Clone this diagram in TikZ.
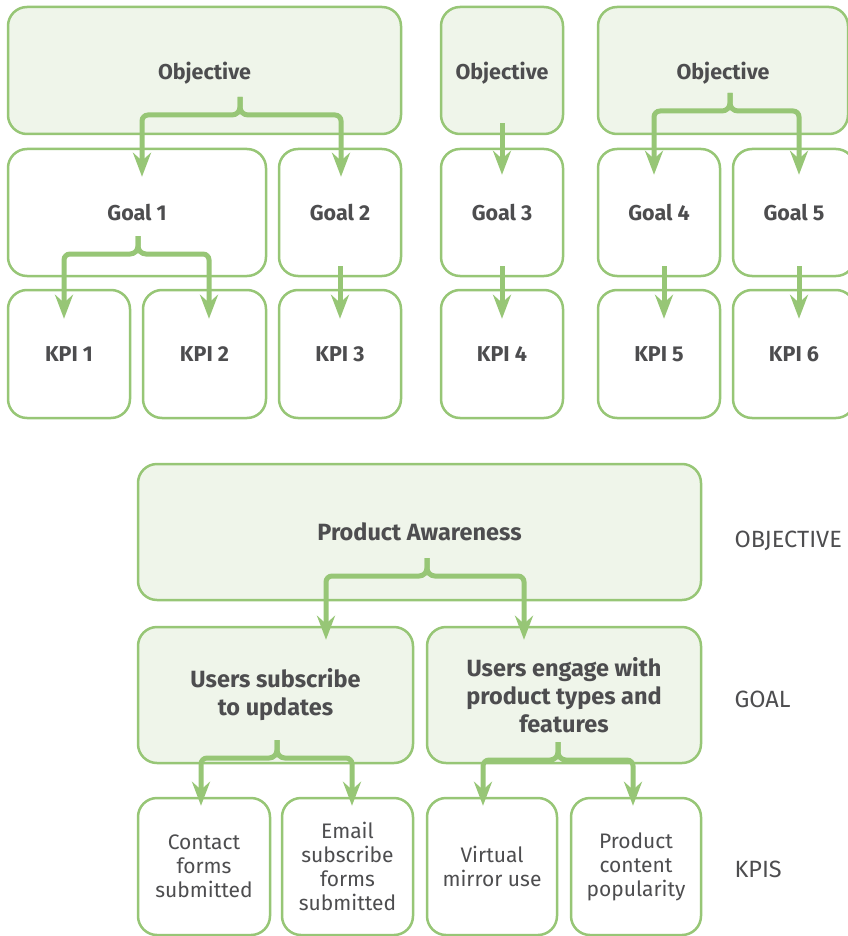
\documentclass[tikz,border=0pt]{standalone}
\usepackage{fontspec}
\setmainfont{Fira Sans}
\usepackage{tikz}
\usetikzlibrary{arrows.meta}
\definecolor{leafgreen}{RGB}{151,198,118}
\definecolor{leaffill}{RGB}{239,245,234}
\definecolor{inkgray}{RGB}{77,77,79}

% split arrow: brace point #1 to left end #2 and right end #3
\newcommand{\branch}[3]{%
  \draw[flow] (#1) -- ++(0,-10) to[out=-90,in=0] ++(-8,-8) [rounded corners=6pt] -| (#2);
  \draw[flow] (#1) -- ++(0,-10) to[out=-90,in=180] ++(8,-8) [rounded corners=6pt] -| (#3);
}

\begin{document}
\begin{tikzpicture}[x=1pt,y=1pt,
    box/.style={draw=leafgreen, line width=2.5pt, rounded corners=19pt, fill=white,
      text=inkgray, align=center, inner sep=0pt},
    objbox/.style={box, fill=leaffill},
    flow/.style={draw=leafgreen, line width=5pt,
      -{Stealth[length=24pt,width=18pt,inset=8pt]}},
    bold/.style={font=\bfseries\fontsize{21.5}{25}\selectfont, text depth=0pt},
    bigbold/.style={font=\bfseries\fontsize{23.5}{28}\selectfont},
    plain/.style={font=\fontsize{21}{24}\selectfont},
    side/.style={anchor=west, text=inkgray, font=\fontsize{23.5}{27}\selectfont}]
  \useasboundingbox (0,0) rectangle (847,-936);

  % generic tree, top half
  \node[objbox, bold, minimum width=393pt, minimum height=127pt] (objA) at (204.5,-70.5) {Objective};
  \node[objbox, bold, minimum width=122pt, minimum height=127pt] (objB) at (502,-70.5) {Objective};
  \node[objbox, bold, minimum width=250pt, minimum height=127pt] (objC) at (723,-70.5) {Objective};

  \node[box, bold, minimum width=258pt, minimum height=127pt] (goal1) at (137,-212.5) {Goal 1};
  \node[box, bold, minimum width=122pt, minimum height=127pt] (goal2) at (340,-212.5) {Goal 2};
  \node[box, bold, minimum width=122pt, minimum height=127pt] (goal3) at (502,-212.5) {Goal 3};
  \node[box, bold, minimum width=122pt, minimum height=127pt] (goal4) at (659,-212.5) {Goal 4};
  \node[box, bold, minimum width=122pt, minimum height=127pt] (goal5) at (794,-212.5) {Goal 5};

  \node[box, bold, minimum width=122pt, minimum height=128pt] (kpi1) at (69,-354) {KPI 1};
  \node[box, bold, minimum width=123pt, minimum height=128pt] (kpi2) at (204.5,-354) {KPI 2};
  \node[box, bold, minimum width=122pt, minimum height=128pt] (kpi3) at (340,-354) {KPI 3};
  \node[box, bold, minimum width=122pt, minimum height=128pt] (kpi4) at (502,-354) {KPI 4};
  \node[box, bold, minimum width=122pt, minimum height=128pt] (kpi5) at (659,-354) {KPI 5};
  \node[box, bold, minimum width=122pt, minimum height=128pt] (kpi6) at (794,-354) {KPI 6};

  \coordinate (bA) at (240,-97);
  \coordinate (bG1) at (138,-236);
  \coordinate (bC) at (730,-93);
  \branch{bA}{[xshift=5pt,yshift=-29pt]goal1.north}{[xshift=1pt,yshift=-29pt]goal2.north}
  \branch{bG1}{[xshift=-5pt,yshift=-30pt]kpi1.north}{[xshift=4.5pt,yshift=-30pt]kpi2.north}
  \branch{bC}{[xshift=-5pt,yshift=-27pt]goal4.north}{[xshift=5pt,yshift=-27pt]goal5.north}
  \draw[flow] ([yshift=12pt]objB.south) -- ([yshift=-27pt]goal3.north);
  \draw[flow] ([yshift=11pt]goal2.south) -- ([yshift=-30pt]kpi3.north);
  \draw[flow] ([yshift=11pt]goal3.south) -- ([yshift=-30pt]kpi4.north);
  \draw[flow] ([xshift=5pt,yshift=11pt]goal4.south) -- ([xshift=5pt,yshift=-30pt]kpi5.north);
  \draw[flow] ([xshift=5pt,yshift=11pt]goal5.south) -- ([xshift=5pt,yshift=-30pt]kpi6.north);

  % worked example, bottom half
  \node[objbox, bigbold, text depth=0pt, minimum width=563pt, minimum height=136pt] (aware) at (419.5,-532) {Product Awareness};
  \node[objbox, bigbold, minimum width=275pt, minimum height=136pt] (subs) at (275.5,-695) {Users subscribe\\to updates};
  \node[objbox, bigbold, minimum width=274pt, minimum height=136pt] (engage) at (564,-695) {Users engage with\\product types and\\features};

  \node[box, plain, minimum width=132pt, minimum height=137pt] (contact) at (204,-866.5) {Contact\\forms\\submitted};
  \node[box, plain, minimum width=131pt, minimum height=137pt] (email) at (347.5,-866.5) {Email\\subscribe\\forms\\submitted};
  \node[box, plain, minimum width=130pt, minimum height=137pt] (mirror) at (492,-866.5) {Virtual\\mirror use};
  \node[box, plain, minimum width=130pt, minimum height=137pt] (content) at (636,-866.5) {Product\\content\\popularity};

  \coordinate (bP) at (427,-558);
  \coordinate (bS) at (277,-740);
  \coordinate (bE) at (558,-742);
  \branch{bP}{[xshift=50.5pt,yshift=-14pt]subs.north}{[xshift=-40pt,yshift=-14pt]engage.north}
  \branch{bS}{[xshift=-3pt,yshift=-9pt]contact.north}{[xshift=4.5pt,yshift=-9pt]email.north}
  \branch{bE}{[xshift=-9pt,yshift=-9pt]mirror.north}{[xshift=-3pt,yshift=-9pt]content.north}

  % level labels
  \node[side] (lvlobj) at (731,-541) {OBJECTIVE};
  \node[side] (lvlgoal) at (731,-699) {GOAL};
  \node[side] (lvlkpi) at (731,-869) {KPIS};
\end{tikzpicture}
\end{document}
